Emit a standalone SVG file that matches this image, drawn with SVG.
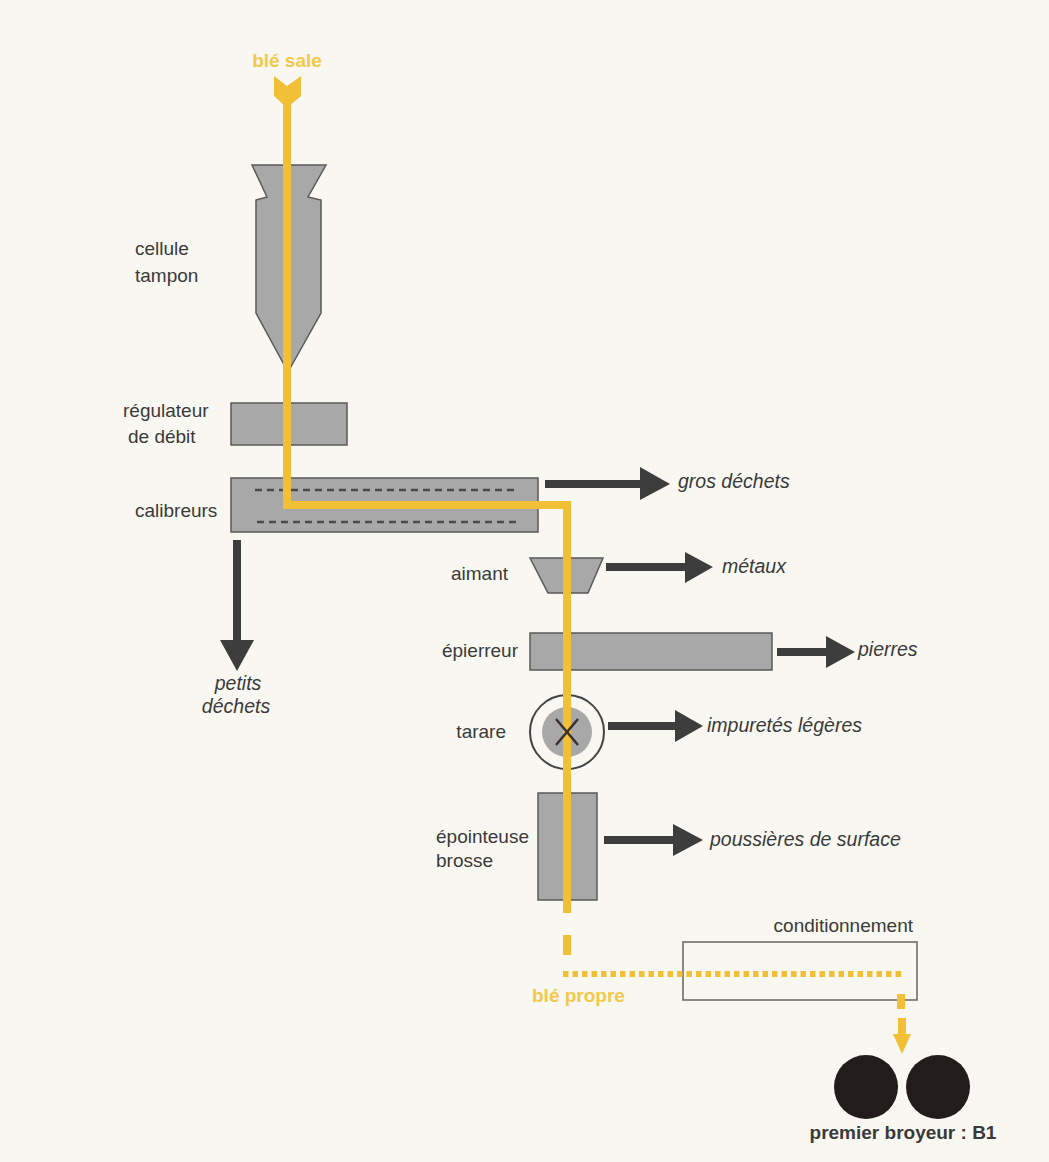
<svg xmlns="http://www.w3.org/2000/svg" width="1049" height="1162" viewBox="0 0 1049 1162">
<defs>
<style>
.lbl{font-family:"Liberation Sans",Arial,sans-serif;font-size:19px;fill:#3a3a3a}
.out{font-family:"Liberation Sans",Arial,sans-serif;font-size:19.5px;font-style:italic;fill:#3a3a3a}
.yl{font-family:"Liberation Sans",Arial,sans-serif;font-size:19px;font-weight:bold;fill:#f3c94a}
.mach{fill:#a8a8a8;stroke:#5a5a5a;stroke-width:1.5}
.flow{fill:none;stroke:#f2c037;stroke-width:8}
.dash{fill:none;stroke:#f2c037;stroke-width:6;stroke-dasharray:5.5 4}
.arr{fill:#3d3d3d}
</style>
</defs>
<rect width="1049" height="1162" fill="#f8f7f2"/>

<g id="cellule-tampon">
<polygon class="mach" points="252,165 326,165 308,197 321,200 321,313 288,372 256,313 256,200 267,197"/>
<text class="lbl" x="135" y="255">cellule</text>
<text class="lbl" x="135" y="282">tampon</text>
</g>

<g id="regulateur">
<rect class="mach" x="231" y="403" width="116" height="42"/>
<text class="lbl" x="123" y="417">régulateur</text>
<text class="lbl" x="128" y="443">de débit</text>
</g>

<g id="calibreurs">
<rect class="mach" x="231" y="478" width="307" height="54"/>
<line x1="255" y1="490" x2="517" y2="490" stroke="#4a4a4a" stroke-width="2.5" stroke-dasharray="7 5"/>
<line x1="257" y1="522" x2="517" y2="522" stroke="#4a4a4a" stroke-width="2.5" stroke-dasharray="7 5"/>
<text class="lbl" x="135" y="517">calibreurs</text>
</g>

<g id="aimant">
<polygon class="mach" points="530,558 603,558 588,593 548,593"/>
<text class="lbl" x="508" y="580" text-anchor="end">aimant</text>
</g>

<g id="epierreur">
<rect class="mach" x="530" y="633" width="242" height="37"/>
<text class="lbl" x="518" y="657" text-anchor="end">épierreur</text>
</g>

<g id="tarare">
<circle cx="567" cy="732" r="37" fill="none" stroke="#444" stroke-width="2"/>
<circle cx="567" cy="732" r="25" fill="#a8a8a8"/>
<text class="lbl" x="506" y="738" text-anchor="end">tarare</text>
</g>

<g id="epointeuse">
<rect class="mach" x="538" y="793" width="59" height="107"/>
<text class="lbl" x="436" y="843">épointeuse</text>
<text class="lbl" x="436" y="867">brosse</text>
</g>

<g id="conditionnement">
<rect x="683" y="942" width="234" height="58" fill="none" stroke="#666" stroke-width="1.5"/>
<text class="lbl" x="913" y="932" text-anchor="end">conditionnement</text>
</g>

<g id="broyeur">
<circle cx="866" cy="1087" r="32" fill="#231c1c"/>
<circle cx="938" cy="1087" r="32" fill="#231c1c"/>
<text class="lbl" x="903" y="1139" text-anchor="middle" font-weight="bold" font-size="18" fill="#333">premier broyeur : B1</text>
</g>

<g id="connectors">
<path class="flow" d="M287,98 V505 H567 V913"/>
<polygon points="274,76 287,86 301,76 301,96 287,108 274,96" fill="#f2c037"/>
<text class="yl" x="287" y="67" text-anchor="middle">blé sale</text>
<line x1="556" y1="719" x2="578" y2="745" stroke="#3a3030" stroke-width="2.5"/>
<line x1="578" y1="719" x2="556" y2="745" stroke="#3a3030" stroke-width="2.5"/>
<line class="flow" x1="567" y1="935" x2="567" y2="955"/>
<line class="dash" x1="563" y1="974" x2="902" y2="974"/>
<line class="flow" x1="901" y1="994" x2="901" y2="1009"/>
<path class="flow" d="M902,1018 V1036"/>
<polygon points="893,1034 911,1034 902,1054" fill="#f2c037"/>
<text class="yl" x="532" y="1002">blé propre</text>

<g id="a-gros">
<rect class="arr" x="545" y="480" width="97" height="8"/>
<polygon class="arr" points="640,467 670,484 640,500"/>
<text class="out" x="678" y="488">gros déchets</text>
</g>
<g id="a-petits">
<rect class="arr" x="233" y="540" width="8" height="102"/>
<polygon class="arr" points="220,640 254,640 237,671"/>
<text class="out" x="238" y="690" text-anchor="middle">petits</text>
<text class="out" x="236" y="713" text-anchor="middle">déchets</text>
</g>
<g id="a-metaux">
<rect class="arr" x="606" y="563" width="82" height="8"/>
<polygon class="arr" points="685,552 713,567 685,583"/>
<text class="out" x="722" y="573">métaux</text>
</g>
<g id="a-pierres">
<rect class="arr" x="777" y="648" width="52" height="8"/>
<polygon class="arr" points="826,636 855,652 826,668"/>
<text class="out" x="858" y="656">pierres</text>
</g>
<g id="a-impuretes">
<rect class="arr" x="608" y="722" width="70" height="8"/>
<polygon class="arr" points="675,710 703,726 675,742"/>
<text class="out" x="707" y="732">impuretés légères</text>
</g>
<g id="a-poussieres">
<rect class="arr" x="604" y="836" width="72" height="8"/>
<polygon class="arr" points="673,824 703,840 673,856"/>
<text class="out" x="710" y="846">poussières de surface</text>
</g>
</g>
</svg>
